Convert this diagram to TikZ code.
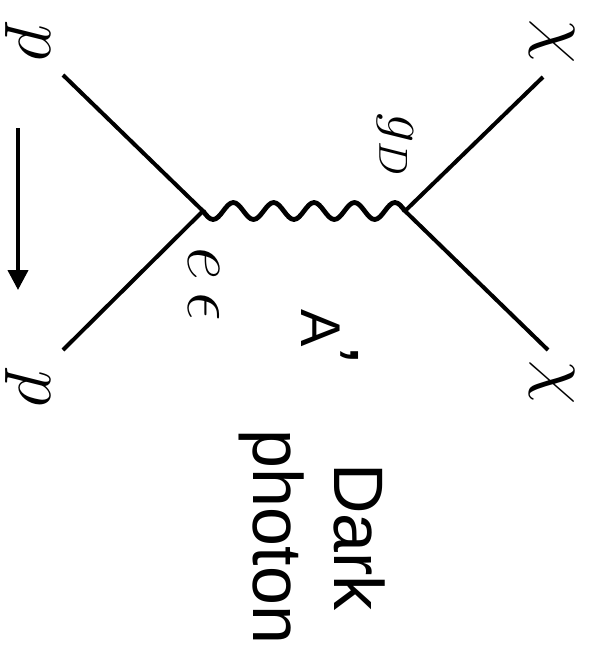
\RequirePackage{fix-cm}
\documentclass[tikz,border=0pt]{standalone}
\usepackage{amsmath, amssymb}
\usepackage{fontspec}
\newfontfamily\labelfont{Liberation Sans}
\usepackage{tikz}
\usetikzlibrary{arrows.meta}

\begin{document}
\begin{tikzpicture}[x=0.5pt, y=-0.5pt,
    fermion/.style={draw=black, line width=2pt},
    photon/.style={draw=black, line width=2.4pt, line join=round},
    lbl/.style={rotate=-90, inner sep=0pt},
    mathlbl/.style={lbl, font=\fontsize{36}{40}\selectfont},
    textlbl/.style={lbl, align=center, font=\labelfont\fontsize{35}{40.5}\selectfont}
  ]
  \useasboundingbox (0,0) rectangle (592,659);
  % The two vertices
  \coordinate (vl) at (203,211);
  \coordinate (vr) at (405,211);
  % Ends of the outer lines
  \coordinate (pin) at (63,75);
  \coordinate (pout) at (63,350);
  \coordinate (xa) at (543,77);
  \coordinate (xb) at (548,350);
  % Proton lines
  \draw[fermion] (pin) -- (vl) -- (pout);
  % Dark matter lines
  \draw[fermion] (xa) -- (vr) -- (xb);
  % The A' propagator, five waves from vl to vr
  \draw[photon] (vl) \foreach \i in {1,...,5} {
      sin ++(10.1,8.5) cos ++(10.1,-8.5) sin ++(10.1,-8.5) cos ++(10.1,8.5) };
  % Particle labels
  \node[mathlbl] (pa) at (28,42) {$p$};
  \node[mathlbl] (pb) at (28,388) {$p$};
  \node[mathlbl] (ca) at (552,42) {$\chi$};
  \node[mathlbl] (cb) at (552,383) {$\chi$};
  % Couplings
  \node[mathlbl] (cpl) at (204,284) {$e\,\epsilon$};
  \node[lbl, font=\fontsize{29}{32}\selectfont] (cpr) at (395,145) {$g_D$};
  \node[textlbl, font=\labelfont\fontsize{28}{32}\selectfont] (aprime) at (330,337)
    {A\raisebox{0.05em}{\fontsize{40}{40}\selectfont ’}};
  \node[textlbl] (dark) at (312,537) {Dark\\photon};
  % Arrow along the proton line
  \coordinate (ka) at (18,128);
  \coordinate (kb) at (18,290);
  \draw[line width=2pt, -{Triangle[length=10pt, width=10pt]}] (ka) -- (kb);
\end{tikzpicture}
\end{document}
